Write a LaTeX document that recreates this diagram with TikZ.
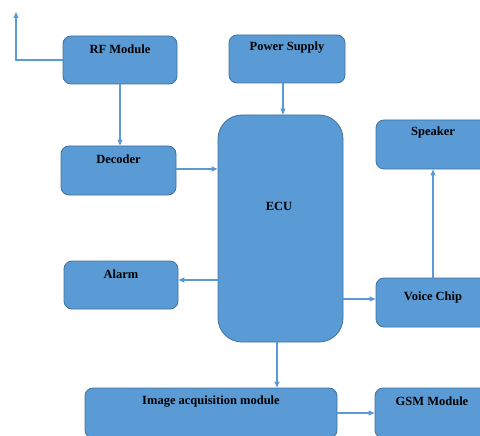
\documentclass[tikz,border=0pt]{standalone}
\usepackage{fontspec}
\setmainfont{Liberation Serif}
\usetikzlibrary{arrows.meta}
\definecolor{boxfill}{HTML}{5B9BD5}
\definecolor{boxline}{HTML}{41719C}
\definecolor{arr}{HTML}{5B9BD5}
\begin{document}
\begin{tikzpicture}[x=1pt,y=-1pt,
  blk/.style={draw=boxline, fill=boxfill, line width=0.8pt, rounded corners=8pt, inner sep=0pt},
  lbl/.style={font=\bfseries\fontsize{12.5}{14}\selectfont, inner sep=0pt, text=black},
  con/.style={draw=arr, line width=1.1pt, -{Triangle[length=6pt,width=5pt]}}]
\useasboundingbox (0,0) rectangle (480,436);
\clip (0,0) rectangle (480,436);
% boxes
\node[blk, minimum width=114pt, minimum height=48pt] (rf) at (120,60) {};
\node[blk, minimum width=116pt, minimum height=48pt] (ps) at (287,59) {};
\node[blk, minimum width=115pt, minimum height=49pt] (dec) at (118.5,170.5) {};
\node[blk, minimum width=114pt, minimum height=48pt] (al) at (121,285) {};
\node[blk, minimum width=125pt, minimum height=227pt, rounded corners=24pt] (ecu) at (280.5,228.5) {};
\node[blk, minimum width=114pt, minimum height=49pt] (sp) at (433,144.5) {};
\node[blk, minimum width=114pt, minimum height=49pt] (vc) at (433,302.5) {};
\node[blk, minimum width=252pt, minimum height=50pt] (img) at (211,413) {};
\node[blk, minimum width=114pt, minimum height=50pt] (gsm) at (432,413) {};
% labels
\node[lbl] (rft) at ([yshift=-14pt]rf.north) {RF Module};
\node[lbl] (pst) at ([yshift=-13pt]ps.north) {Power Supply};
\node[lbl] (dect) at ([yshift=-14pt]dec.north) {Decoder};
\node[lbl] (alt) at ([yshift=-14pt]al.north) {Alarm};
\node[lbl] (ecut) at (279,206) {ECU};
\node[lbl] (spt) at ([yshift=-13pt]sp.north) {Speaker};
\node[lbl] (vct) at ([yshift=-20pt]vc.north) {Voice Chip};
\node[lbl] (imgt) at ([yshift=-14pt]img.north) {Image acquisition module};
\node[lbl] (gsmt) at ([yshift=-14pt]gsm.north) {GSM Module};
% antenna
\coordinate (antc) at (16,60);
\coordinate (antt) at (16,12);
\draw[con] (rf.west) -- (antc) -- (antt);
% connectors
\draw[con] (rf.south) -- (rf.south |- dec.north);
\draw[con] (ps.south -| 283,0) -- (283,0 |- ecu.north);
\draw[con] ([yshift=1.5pt]dec.east) -- ([yshift=1.5pt]dec.east -| ecu.west);
\draw[con] (ecu.west |- 0,280) -- (al.east |- 0,280);
\draw[con] (ecu.east |- 0,299) -- (vc.west |- 0,299);
\draw[con] (vc.north) -- (sp.south);
\draw[con] (ecu.south -| 277,0) -- (277,0 |- img.north);
\draw[con] (img.east) -- (gsm.west);
\end{tikzpicture}
\end{document}
